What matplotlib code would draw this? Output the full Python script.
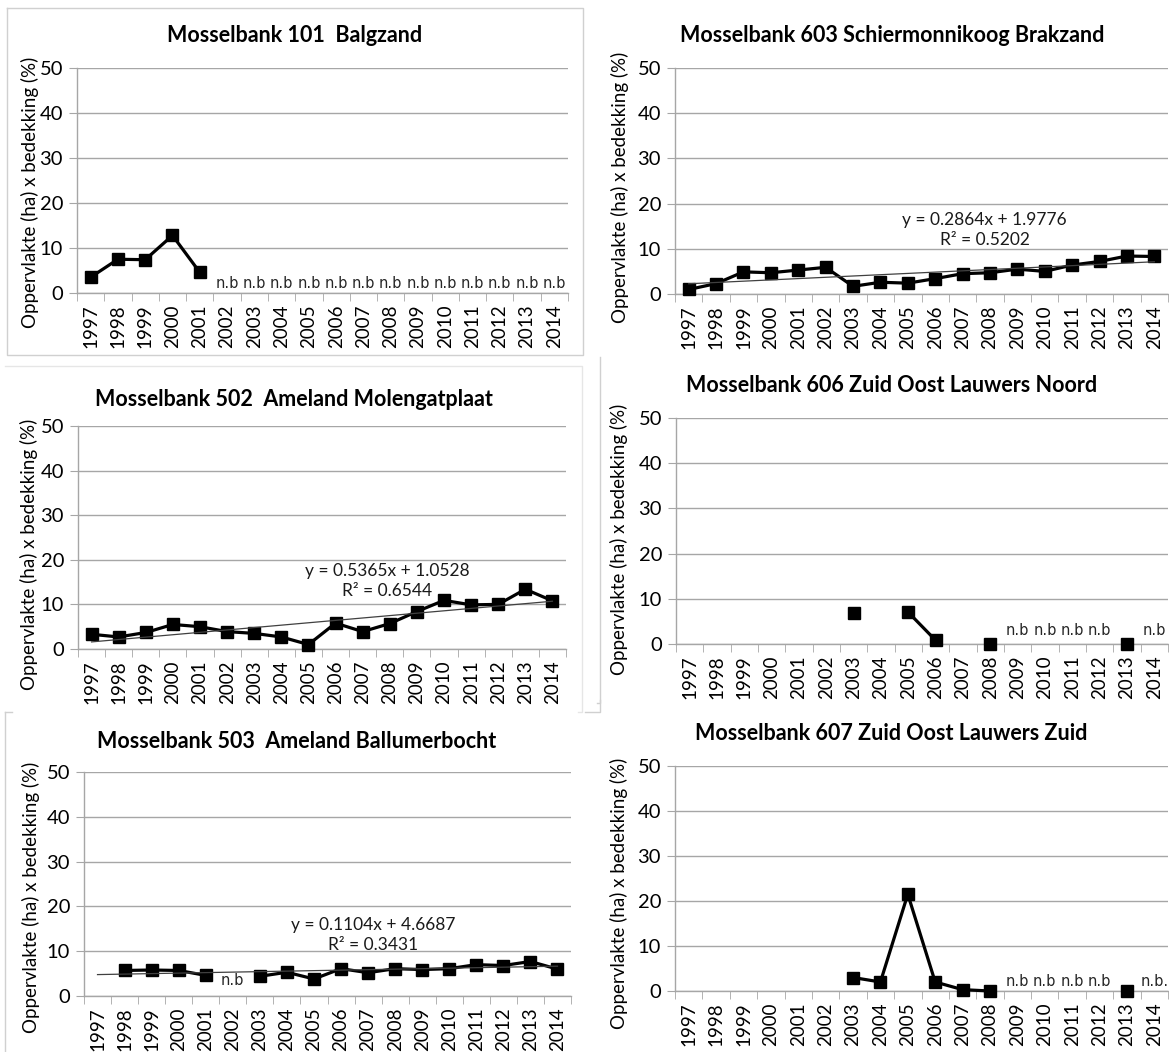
import numpy as np
import matplotlib
matplotlib.use("Agg")
import matplotlib.pyplot as plt
from matplotlib.lines import Line2D

plt.rcParams["font.family"] = ["Lato", "DejaVu Sans"]

W, H = 1169, 1052
nan = np.nan

years = [str(y) for y in range(1997, 2015)]

titles = ["Mosselbank 101  Balgzand",
          "Mosselbank 603 Schiermonnikoog Brakzand",
          "Mosselbank 502  Ameland Molengatplaat",
          "Mosselbank 606 Zuid Oost Lauwers Noord",
          "Mosselbank 503  Ameland Ballumerbocht",
          "Mosselbank 607 Zuid Oost Lauwers Zuid"]

bank_101 = [3.5, 7.5, 7.4, 12.8, 4.6] + [nan] * 13
bank_603 = [1.0, 2.3, 4.9, 4.7, 5.3, 5.9, 1.7, 2.6, 2.4, 3.4, 4.5, 4.7, 5.5, 5.0, 6.4, 7.2, 8.4, 8.3]
bank_502 = [3.3, 2.7, 3.7, 5.5, 5.0, 3.9, 3.5, 2.7, 1.0, 5.8, 3.9, 5.7, 8.4, 10.9, 9.9, 10.0, 13.4, 10.8]
bank_606 = [nan, nan, nan, nan, nan, nan, 6.8, nan, 7.0, 0.8, nan, 0.0, nan, nan, nan, nan, 0.0, nan]
bank_503 = [nan, 5.7, 5.8, 5.7, 4.6, nan, 4.4, 5.3, 3.8, 6.1, 5.2, 6.1, 5.9, 6.1, 7.0, 6.8, 7.7, 6.0]
bank_607 = [nan, nan, nan, nan, nan, nan, 3.0, 2.0, 21.5, 2.0, 0.3, 0.0, nan, nan, nan, nan, 0.0, nan]
series = [bank_101, bank_603, bank_502, bank_606, bank_503, bank_607]

# linear trend per panel: (slope, intercept, r2) or None
trends = [None, (0.2864, 1.9776, "0.5202"), (0.5365, 1.0528, "0.6544"),
          None, (0.1104, 4.6687, "0.3431"), None]

# "niet bemonsterd" markers: (year index, label)
nb_101 = [(i, "n.b") for i in range(5, 18)]
nb_606 = [(12, "n.b"), (13, "n.b"), (14, "n.b"), (15, "n.b"), (17, "n.b")]
nb_503 = [(5, "n.b")]
nb_607 = [(12, "n.b"), (13, "n.b"), (14, "n.b"), (15, "n.b"), (17, "n.b.")]
nb_labels = [nb_101, [], [], nb_606, nb_503, nb_607]
nb_height = [2.0, 0, 0, 2.9, 3.4, 2.0]

# layout in pixels: axes left, right, top(50), bottom(0); title centre; ylabel centre; equation centre
boxes = [(77, 568, 68, 293), (675, 1168, 68, 294), (78, 566, 426, 649),
         (676, 1168, 418, 644), (84, 571, 772, 996), (675, 1168, 766, 991)]
title_xy = [(295, 35), (892, 35), (294, 399), (892, 386), (297, 741), (891, 733)]
ylab_xy = [(30, 192), (620, 187), (29, 554), (619, 539), (31, 897), (619, 893)]
eq_xy = [None, (11.8, 14.2), (11.9, 15.3), None, (11.2, 13.7), None]

GRID = "#A6A6A6"
x = np.arange(1, 19)

fig = plt.figure(figsize=(W / 100, H / 100), dpi=100)

for k in range(6):
    l, r, t, b = boxes[k]
    ax = fig.add_axes([l / W, 1 - b / H, (r - l) / W, (b - t) / H])
    ax.set_xlim(0.5, 18.5)
    ax.set_ylim(0, 50)
    ax.set_yticks(range(0, 51, 10))
    ax.yaxis.grid(True, color=GRID, lw=1.0)
    ax.set_axisbelow(True)
    for s in ("top", "right"):
        ax.spines[s].set_visible(False)
    for s in ("left", "bottom"):
        ax.spines[s].set_color(GRID)
        ax.spines[s].set_linewidth(1.0)
    ax.set_xticks(x)
    ax.set_xticklabels(years, rotation=90, fontsize=13.5)
    ax.set_xticks(np.arange(0.5, 19), minor=True)
    ax.tick_params(axis="x", which="major", length=0, pad=8)
    ax.tick_params(axis="x", which="minor", length=6, color=GRID)
    ax.tick_params(axis="y", length=6, color=GRID, labelsize=14.5, pad=4)

    ax.plot(x, series[k], color="black", lw=2.3, marker="s", markersize=9,
            clip_on=False, zorder=3)

    if trends[k] is not None:
        a, c, r2 = trends[k]
        ax.plot(x, a * x + c, color="#404040", lw=0.9, zorder=4)
        ex, ey = eq_xy[k]
        ax.text(ex, ey, f"y = {a}x + {c}\nR² = {r2}", ha="center", va="center",
                fontsize=12.5, linespacing=1.3, color="#1a1a1a", zorder=5)

    for i, lab in nb_labels[k]:
        ax.text(x[i], nb_height[k], lab, ha="center", va="center",
                fontsize=10.5, color="#262626", family=["DejaVu Sans"])

    tx, ty = title_xy[k]
    fig.text(tx / W, 1 - ty / H, titles[k], ha="center", va="center",
             fontsize=15.5, fontweight="bold")
    lx, ly = ylab_xy[k]
    fig.text(lx / W, 1 - ly / H, "Oppervlakte (ha) x bedekking (%)", rotation=90,
             ha="center", va="center", fontsize=13.5)


def frame(xs, ys, color="#D0D0D0"):
    fig.add_artist(Line2D([v / W for v in xs], [1 - v / H for v in ys],
                          color=color, lw=1.0, transform=fig.transFigure))


# chart frames around the panels
frame([7, 583, 583, 7, 7], [8, 8, 355, 355, 8])
frame([5, 582, 582, 578], [366, 366, 712, 712], color="#E6E6E6")
frame([600, 600, 597], [357, 703, 703])
frame([5, 5], [712, 1052])
frame([5, 12], [712, 712])
frame([585, 600, 600], [712, 712, 700])

fig.savefig("out.png", dpi=100)
